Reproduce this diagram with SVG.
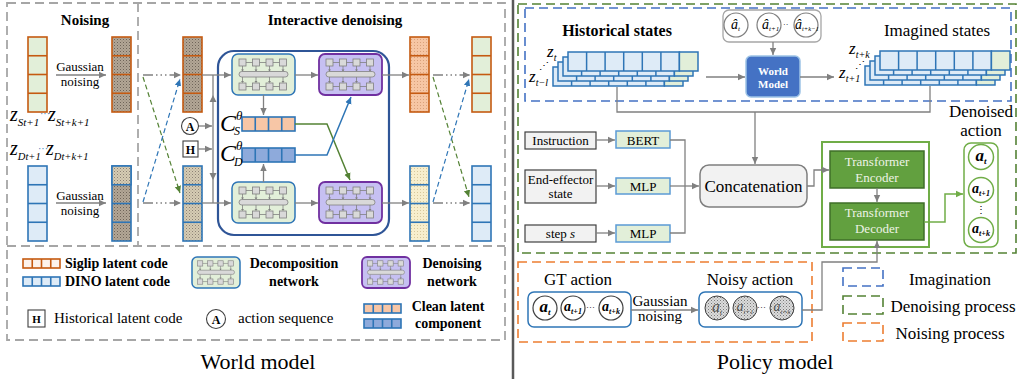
<svg xmlns="http://www.w3.org/2000/svg" width="1020" height="379" viewBox="0 0 1020 379">
<defs>
<style>
text{font-family:"Liberation Serif","Times New Roman",serif;fill:#000}
.b{font-weight:bold}
.i{font-style:italic}
.bi{font-weight:bold;font-style:italic}
.m{text-anchor:middle}
.gl{stroke:#808080;stroke-width:1.3;fill:none}
.or{stroke:#c55a11;stroke-width:1.6}
.bl{stroke:#2e75b6;stroke-width:1.6}
.sq{fill:#d9d9d9;stroke:#808080;stroke-width:0.8}
.dec{fill:#e2efd9;stroke:#2e75b6;stroke-width:1.5}
.den{fill:#c6c0f2;stroke:#7030a0;stroke-width:1.8}
.gbox{fill:#f2f2f2;stroke:#404040;stroke-width:1.2}
.mlp{fill:#e2efd9;stroke:#5b9bd5;stroke-width:1.5}
.tf{fill:#62a03f;stroke:#3f6f28;stroke-width:1.5}
.tft{fill:#eef3e6;font-size:13px}
.circ{fill:#fff;stroke:#404040;stroke-width:1.2}
</style>
<marker id="ag" markerWidth="8" markerHeight="8" refX="7" refY="4" orient="auto" markerUnits="userSpaceOnUse"><path d="M0,0.8 L7,4 L0,7.2 z" fill="#808080"/></marker>
<marker id="ab" markerWidth="8" markerHeight="8" refX="7" refY="4" orient="auto" markerUnits="userSpaceOnUse"><path d="M0,0.8 L7,4 L0,7.2 z" fill="#2e75b6"/></marker>
<marker id="agr" markerWidth="8" markerHeight="8" refX="7" refY="4" orient="auto" markerUnits="userSpaceOnUse"><path d="M0,0.8 L7,4 L0,7.2 z" fill="#548235"/></marker>
<marker id="agl" markerWidth="8" markerHeight="8" refX="7" refY="4" orient="auto" markerUnits="userSpaceOnUse"><path d="M0,0.8 L7,4 L0,7.2 z" fill="#70ad47"/></marker>
<pattern id="pn" width="3" height="3" patternUnits="userSpaceOnUse"><rect width="3" height="3" fill="#b3a696"/><rect width="1" height="1" fill="#6e6458"/><rect x="1.5" y="1.5" width="1" height="1" fill="#8c8174"/></pattern>
<pattern id="pnl" width="3" height="3" patternUnits="userSpaceOnUse"><rect width="3" height="3" fill="#d6ccb4"/><rect width="1" height="1" fill="#8c8174"/><rect x="1.5" y="1.5" width="1" height="1" fill="#a89c88"/></pattern>
<pattern id="ppe" width="3" height="3" patternUnits="userSpaceOnUse"><rect width="3" height="3" fill="#f6c6a4"/><rect width="1" height="1" fill="#d9a07a"/></pattern>
<pattern id="pcr" width="3" height="3" patternUnits="userSpaceOnUse"><rect width="3" height="3" fill="#f7eecd"/><rect width="1" height="1" fill="#d6c79a"/></pattern>
<pattern id="pgr" width="3" height="3" patternUnits="userSpaceOnUse"><rect width="3" height="3" fill="#dcdcdc"/><rect width="1" height="1" fill="#7a7a7a"/><rect x="1.5" y="1.5" width="1" height="1" fill="#9a9a9a"/></pattern>
<symbol id="net" viewBox="0 0 63 41">
<g stroke="#808080" stroke-width="0.8" fill="none">
<line x1="10" y1="8.5" x2="51" y2="8.5"/><line x1="10" y1="32.5" x2="51" y2="32.5"/>
<line x1="10.5" y1="12" x2="10.5" y2="17"/><line x1="24" y1="12" x2="24" y2="17"/><line x1="37.5" y1="12" x2="37.5" y2="17"/><line x1="51" y1="12" x2="51" y2="17"/>
<line x1="10.5" y1="23" x2="10.5" y2="28"/><line x1="24" y1="23" x2="24" y2="28"/><line x1="37.5" y1="23" x2="37.5" y2="28"/><line x1="51" y1="23" x2="51" y2="28"/>
</g>
<g fill="#808080">
<path d="M9,15.5 h3 l-1.5,2 z M22.5,15.5 h3 l-1.5,2 z M36,15.5 h3 l-1.5,2 z M49.5,15.5 h3 l-1.5,2 z"/>
<path d="M9,27 h3 l-1.5,2 z M22.5,27 h3 l-1.5,2 z M36,27 h3 l-1.5,2 z M49.5,27 h3 l-1.5,2 z"/>
</g>
<g class="sq">
<rect x="7" y="5" width="7" height="7"/><rect x="20.5" y="5" width="7" height="7"/><rect x="34" y="5" width="7" height="7"/><rect x="47.5" y="5" width="7" height="7"/>
<rect x="7" y="29" width="7" height="7"/><rect x="20.5" y="29" width="7" height="7"/><rect x="34" y="29" width="7" height="7"/><rect x="47.5" y="29" width="7" height="7"/>
<rect x="7" y="17.5" width="49" height="5.5" rx="2.75"/>
</g>
</symbol>
<symbol id="layer" viewBox="0 0 130 19" overflow="visible">
<g stroke="#2e75b6" stroke-width="1.5">
<rect x="0" y="0" width="111.4" height="19" fill="#deebf7"/>
<rect x="111.4" y="0" width="18.6" height="19" fill="#e2efd9"/>
<line x1="18.6" y1="0" x2="18.6" y2="19"/><line x1="37.1" y1="0" x2="37.1" y2="19"/><line x1="55.7" y1="0" x2="55.7" y2="19"/><line x1="74.3" y1="0" x2="74.3" y2="19"/><line x1="92.9" y1="0" x2="92.9" y2="19"/>
</g>
</symbol>
</defs>
<rect width="1020" height="379" fill="#fff"/>

<!-- ================= WORLD MODEL ================= -->
<g id="world-frame" fill="none" stroke="#a6a6a6" stroke-width="1.8" stroke-dasharray="9 5">
<rect x="7" y="3" width="498" height="337"/>
<line x1="138" y1="3" x2="138" y2="246"/>
<line x1="7" y1="246" x2="505" y2="246"/>
</g>
<text class="b m" x="85" y="25" font-size="15">Noising</text>
<text class="b m" x="335" y="25" font-size="15">Interactive denoising</text>

<g id="bar-siglip-clean">
<rect x="28" y="37" width="19" height="75" fill="#e2efd9" class="or"/>
<g class="or"><line x1="28" y1="55.75" x2="47" y2="55.75"/><line x1="28" y1="74.5" x2="47" y2="74.5"/><line x1="28" y1="93.25" x2="47" y2="93.25"/></g>
</g>
<g id="bar-siglip-noisy">
<rect x="112" y="37" width="19" height="75" fill="url(#pn)" class="or"/>
<g class="or"><line x1="112" y1="55.75" x2="131" y2="55.75"/><line x1="112" y1="74.5" x2="131" y2="74.5"/><line x1="112" y1="93.25" x2="131" y2="93.25"/></g>
</g>
<g id="bar-dino-clean">
<rect x="28" y="166" width="19" height="75" fill="#deebf7" class="bl"/>
<g class="bl"><line x1="28" y1="184.75" x2="47" y2="184.75"/><line x1="28" y1="203.5" x2="47" y2="203.5"/><line x1="28" y1="222.25" x2="47" y2="222.25"/></g>
</g>
<g id="bar-dino-noisy">
<rect x="112" y="166" width="19" height="75" fill="url(#pn)" class="bl"/>
<rect x="112" y="166" width="19" height="18.75" fill="url(#pnl)" class="bl"/>
<g class="bl"><line x1="112" y1="203.5" x2="131" y2="203.5"/><line x1="112" y1="222.25" x2="131" y2="222.25"/></g>
</g>
<g id="noising-labels">
<text class="m" x="80" y="71" font-size="13">Gaussian</text>
<text class="m" x="80" y="86" font-size="13">noising</text>
<text class="m" x="80" y="200" font-size="13">Gaussian</text>
<text class="m" x="80" y="215" font-size="13">noising</text>
<text class="i" x="10" y="121" font-size="20">z<tspan font-size="11" dy="5">St+1</tspan></text>
<text x="40" y="117" font-size="10" fill="#2e75b6" style="fill:#2e75b6">···</text>
<text class="i" x="48" y="121" font-size="20">z<tspan font-size="11" dy="5">St+k+1</tspan></text>
<text class="i" x="10" y="155" font-size="20">z<tspan font-size="10.5" dy="5">Dt+1</tspan></text>
<text x="38" y="152" font-size="10" style="fill:#2e75b6">···</text>
<text class="i" x="46" y="155" font-size="20">z<tspan font-size="10.5" dy="5">Dt+k+1</tspan></text>
</g>

<g id="bar-siglip-mid">
<rect x="183" y="37" width="19" height="75" fill="url(#pn)" class="or"/>
<g class="or"><line x1="183" y1="55.75" x2="202" y2="55.75"/><line x1="183" y1="74.5" x2="202" y2="74.5"/><line x1="183" y1="93.25" x2="202" y2="93.25"/></g>
</g>
<g id="bar-dino-mid">
<rect x="183" y="166" width="19" height="75" fill="url(#pnl)" class="bl"/>
<g class="bl"><line x1="183" y1="184.75" x2="202" y2="184.75"/><line x1="183" y1="203.5" x2="202" y2="203.5"/><line x1="183" y1="222.25" x2="202" y2="222.25"/></g>
</g>
<g id="node-A">
<circle cx="190" cy="126" r="8.5" fill="#fff" stroke="#404040" stroke-width="1.1"/>
<text class="b m" x="190" y="130.5" font-size="12">A</text>
</g>
<g id="node-H">
<rect x="183" y="141" width="15" height="16" fill="#fff" stroke="#404040" stroke-width="1.1"/>
<text class="b m" x="190.5" y="153.5" font-size="12">H</text>
</g>

<g id="interactive-box">
<rect x="218" y="51" width="171" height="184" rx="16" fill="none" stroke="#2f5597" stroke-width="2.2"/>
</g>
<g id="decomp-top"><rect x="232" y="54" width="63" height="41" rx="6" class="dec"/><use href="#net" x="232" y="54" width="63" height="41"/></g>
<g id="decomp-bottom"><rect x="232" y="182" width="63" height="41" rx="6" class="dec"/><use href="#net" x="232" y="182" width="63" height="41"/></g>
<g id="denoise-top"><rect x="319" y="54" width="63" height="41" rx="6" class="den"/><use href="#net" x="319" y="54" width="63" height="41"/></g>
<g id="denoise-bottom"><rect x="319" y="182" width="63" height="41" rx="6" class="den"/><use href="#net" x="319" y="182" width="63" height="41"/></g>

<g id="C-S">
<rect x="242" y="117" width="53" height="14" fill="#f7c6a6" class="bl"/>
<g class="bl"><line x1="255.25" y1="117" x2="255.25" y2="131"/><line x1="268.5" y1="117" x2="268.5" y2="131"/><line x1="281.75" y1="117" x2="281.75" y2="131"/></g>
<text class="i" x="220" y="131" font-size="24">C</text>
<text class="i" x="236" y="120" font-size="13">θ</text>
<text class="i" x="234" y="135" font-size="12">S</text>
</g>
<g id="C-D">
<rect x="242" y="148" width="53" height="14" fill="#8eaadb" class="bl"/>
<g class="bl"><line x1="255.25" y1="148" x2="255.25" y2="162"/><line x1="268.5" y1="148" x2="268.5" y2="162"/><line x1="281.75" y1="148" x2="281.75" y2="162"/></g>
<text class="i" x="220" y="161" font-size="24">C</text>
<text class="i" x="236" y="150" font-size="13">θ</text>
<text class="i" x="234" y="166" font-size="12">D</text>
</g>

<g id="bar-siglip-denoised">
<rect x="410" y="37" width="19" height="75" fill="url(#ppe)" class="or"/>
<g class="or"><line x1="410" y1="55.75" x2="429" y2="55.75"/><line x1="410" y1="74.5" x2="429" y2="74.5"/><line x1="410" y1="93.25" x2="429" y2="93.25"/></g>
</g>
<g id="bar-dino-denoised">
<rect x="410" y="166" width="19" height="75" fill="url(#pcr)" class="bl"/>
<g class="bl"><line x1="410" y1="184.75" x2="429" y2="184.75"/><line x1="410" y1="203.5" x2="429" y2="203.5"/><line x1="410" y1="222.25" x2="429" y2="222.25"/></g>
</g>
<g id="bar-siglip-out">
<rect x="472" y="37" width="19" height="75" fill="#e2efd9" class="or"/>
<g class="or"><line x1="472" y1="55.75" x2="491" y2="55.75"/><line x1="472" y1="74.5" x2="491" y2="74.5"/><line x1="472" y1="93.25" x2="491" y2="93.25"/></g>
</g>
<g id="bar-dino-out">
<rect x="472" y="166" width="19" height="75" fill="#deebf7" class="bl"/>
<g class="bl"><line x1="472" y1="184.75" x2="491" y2="184.75"/><line x1="472" y1="203.5" x2="491" y2="203.5"/><line x1="472" y1="222.25" x2="491" y2="222.25"/></g>
</g>

<g id="world-legend">
<rect x="23" y="259" width="37" height="9" fill="#fdf3ec" class="or"/>
<g class="or"><line x1="32.25" y1="259" x2="32.25" y2="268"/><line x1="41.5" y1="259" x2="41.5" y2="268"/><line x1="50.75" y1="259" x2="50.75" y2="268"/></g>
<text class="b" x="65" y="268" font-size="14">Siglip latent code</text>
<rect x="23" y="277" width="37" height="9" fill="#deebf7" class="bl"/>
<g class="bl"><line x1="32.25" y1="277" x2="32.25" y2="286"/><line x1="41.5" y1="277" x2="41.5" y2="286"/><line x1="50.75" y1="277" x2="50.75" y2="286"/></g>
<text class="b" x="65" y="286" font-size="14">DINO latent code</text>
<rect x="192" y="257" width="48" height="31" rx="5" class="dec"/><use href="#net" x="192" y="257" width="48" height="31"/>
<text class="b m" x="294" y="268" font-size="14">Decomposition</text>
<text class="b m" x="294" y="286" font-size="14">network</text>
<rect x="362" y="257" width="48" height="31" rx="5" class="den"/><use href="#net" x="362" y="257" width="48" height="31"/>
<text class="b m" x="452" y="268" font-size="14">Denoising</text>
<text class="b m" x="452" y="286" font-size="14">network</text>
<rect x="28" y="310" width="17" height="17" fill="#fff" stroke="#404040" stroke-width="1.1"/>
<text class="b m" x="36.5" y="323" font-size="11">H</text>
<text x="54" y="323" font-size="15">Historical latent code</text>
<circle cx="216" cy="319" r="9.5" fill="#fff" stroke="#404040" stroke-width="1.1"/>
<text class="b m" x="216" y="323.5" font-size="12">A</text>
<text x="238" y="323" font-size="15">action sequence</text>
<rect x="364" y="304" width="37" height="9" fill="#f7c6a6" class="bl"/>
<g class="bl"><line x1="373.25" y1="304" x2="373.25" y2="313"/><line x1="382.5" y1="304" x2="382.5" y2="313"/><line x1="391.75" y1="304" x2="391.75" y2="313"/></g>
<rect x="364" y="319" width="37" height="9" fill="#8eaadb" class="bl"/>
<g class="bl"><line x1="373.25" y1="319" x2="373.25" y2="328"/><line x1="382.5" y1="319" x2="382.5" y2="328"/><line x1="391.75" y1="319" x2="391.75" y2="328"/></g>
<text class="b m" x="448" y="311" font-size="14">Clean latent</text>
<text class="b m" x="448" y="328" font-size="14">component</text>
</g>
<text class="m" x="258" y="369" font-size="22">World model</text>

<!-- separator -->
<line x1="513" y1="0" x2="513" y2="379" stroke="#595959" stroke-width="2.5"/>

<!-- ================= POLICY MODEL ================= -->
<g id="frame-denoising"><rect x="518" y="4" width="498" height="249" fill="none" stroke="#548235" stroke-width="1.6" stroke-dasharray="9 5"/></g>
<g id="frame-imagination"><rect x="525" y="8" width="486" height="93" fill="none" stroke="#4472c4" stroke-width="1.6" stroke-dasharray="9 5"/></g>
<g id="frame-noising"><rect x="518" y="262" width="294" height="80" fill="none" stroke="#ed7d31" stroke-width="1.6" stroke-dasharray="9 5"/></g>

<g id="historical-states">
<text class="b m" x="617" y="36" font-size="16">Historical states</text>
<use href="#layer" x="553" y="67" width="130" height="19"/>
<use href="#layer" x="558" y="62" width="130" height="19"/>
<use href="#layer" x="563" y="57" width="130" height="19"/>
<use href="#layer" x="568" y="52" width="130" height="19"/>
<text class="i" x="547" y="57" font-size="17">z<tspan font-size="10" dy="4">t</tspan></text>
<text x="539" y="69" font-size="10">⋰</text>
<text class="i" x="529" y="82" font-size="17">z<tspan font-size="10" dy="4">t−l</tspan></text>
</g>
<g id="action-seq">
<rect x="723" y="10" width="98" height="32" rx="6" fill="#fff" stroke="#a6a6a6" stroke-width="1.3"/>
<circle cx="736" cy="25" r="12" class="circ" style="stroke:#7f7f7f"/>
<circle cx="769" cy="25" r="12" class="circ" style="stroke:#7f7f7f"/>
<circle cx="806" cy="25" r="12" class="circ" style="stroke:#7f7f7f"/>
<text class="i" x="731" y="29" font-size="14">â<tspan font-size="7" dy="2">t</tspan></text>
<text class="i" x="762" y="29" font-size="14">â<tspan font-size="7" dy="2">t+1</tspan></text>
<text x="783" y="27" font-size="8">··</text>
<text class="i" x="795" y="29" font-size="14">â<tspan font-size="6.5" dy="2">t+k−1</tspan></text>
</g>
<g id="world-model-box">
<rect x="746" y="56" width="54" height="41" rx="5" fill="#4472c4" stroke="#9dc3e6" stroke-width="1.5"/>
<text class="b m" x="773" y="75" font-size="11" style="fill:#fff">World</text>
<text class="b m" x="773" y="88" font-size="11" style="fill:#fff">Model</text>
</g>
<g id="imagined-states">
<text class="m" x="937" y="36" font-size="17">Imagined states</text>
<use href="#layer" x="865" y="66" width="130" height="19"/>
<use href="#layer" x="870" y="61" width="130" height="19"/>
<use href="#layer" x="875" y="56" width="130" height="19"/>
<use href="#layer" x="880" y="51" width="130" height="19"/>
<text class="i" x="849" y="54" font-size="17">z<tspan font-size="10" dy="4">t+k</tspan></text>
<text x="855" y="68" font-size="10">⋰</text>
<text class="i" x="839" y="78" font-size="17">z<tspan font-size="10" dy="4">t+1</tspan></text>
</g>

<g id="instruction"><rect x="525" y="132" width="71" height="17" class="gbox"/><text class="m" x="560.5" y="145" font-size="13">Instruction</text></g>
<g id="ee-state"><rect x="525" y="170" width="71" height="33" class="gbox"/><text class="m" x="560.5" y="184" font-size="13">End-effector</text><text class="m" x="560.5" y="198" font-size="13">state</text></g>
<g id="step"><rect x="525" y="225" width="71" height="17" class="gbox"/><text class="m" x="560.5" y="238" font-size="13">step  <tspan class="i">s</tspan></text></g>
<g id="bert"><rect x="616" y="131" width="54" height="17" class="mlp"/><text class="m" x="643" y="144.5" font-size="13">BERT</text></g>
<g id="mlp1"><rect x="616" y="178" width="54" height="16" class="mlp"/><text class="m" x="643" y="190.5" font-size="13">MLP</text></g>
<g id="mlp2"><rect x="616" y="225" width="54" height="17" class="mlp"/><text class="m" x="643" y="238" font-size="13">MLP</text></g>
<g id="concat"><rect x="700" y="165" width="107" height="42" rx="9" fill="#f2f2f2" stroke="#7f7f7f" stroke-width="1.5"/><text class="m" x="753.5" y="192" font-size="17">Concatenation</text></g>

<g id="transformer">
<rect x="822" y="142" width="107" height="105" fill="none" stroke="#70ad47" stroke-width="2"/>
<rect x="830" y="151" width="94" height="37" class="tf"/>
<text class="m tft" x="877" y="166" style="fill:#eef3e6">Transformer</text>
<text class="m tft" x="877" y="182" style="fill:#eef3e6">Encoder</text>
<rect x="830" y="203" width="94" height="37" class="tf"/>
<text class="m tft" x="877" y="217" style="fill:#eef3e6">Transformer</text>
<text class="m tft" x="877" y="233" style="fill:#eef3e6">Decoder</text>
</g>

<g id="denoised-action">
<text class="m" x="981" y="117" font-size="17">Denoised</text>
<text class="m" x="981" y="136" font-size="17">action</text>
<rect x="964" y="143" width="34" height="104" rx="7" fill="#fff" stroke="#70ad47" stroke-width="1.5"/>
<circle cx="981" cy="157" r="12.5" fill="#fff" stroke="#70ad47" stroke-width="1.5"/>
<circle cx="981" cy="190" r="12.5" fill="#fff" stroke="#70ad47" stroke-width="1.5"/>
<circle cx="981" cy="230" r="12.5" fill="#fff" stroke="#70ad47" stroke-width="1.5"/>
<text class="bi m" x="981" y="161" font-size="17">a<tspan font-size="9" dy="3">t</tspan></text>
<text class="bi m" x="981" y="193" font-size="14">a<tspan font-size="8" dy="3">t+1</tspan></text>
<text class="m" x="981" y="213" font-size="10">⋮</text>
<text class="bi m" x="981" y="233" font-size="14">a<tspan font-size="8" dy="3">t+k</tspan></text>
</g>

<g id="gt-action">
<text class="m" x="578" y="285" font-size="17">GT action</text>
<rect x="528" y="292" width="103" height="35" rx="6" fill="#fff" stroke="#2e75b6" stroke-width="1.5"/>
<circle cx="545" cy="308" r="12" class="circ"/>
<circle cx="573" cy="308" r="12" class="circ"/>
<circle cx="611" cy="308" r="12" class="circ"/>
<text class="bi m" x="545" y="312" font-size="17">a<tspan font-size="9" dy="3">t</tspan></text>
<text class="bi m" x="573" y="311" font-size="14">a<tspan font-size="8" dy="3">t+1</tspan></text>
<text x="586" y="310" font-size="9">···</text>
<text class="bi m" x="611" y="311" font-size="14">a<tspan font-size="8" dy="3">t+k</tspan></text>
</g>
<text class="m" x="660" y="306" font-size="15">Gaussian</text>
<text class="m" x="660" y="321" font-size="15">noising</text>
<g id="noisy-action">
<text class="m" x="750" y="285" font-size="17">Noisy action</text>
<rect x="699" y="292" width="103" height="35" rx="6" fill="#fff" stroke="#2e75b6" stroke-width="1.5"/>
<circle cx="717" cy="308" r="12" fill="url(#pgr)" stroke="#404040" stroke-width="1"/>
<circle cx="745" cy="308" r="12" fill="url(#pgr)" stroke="#404040" stroke-width="1"/>
<circle cx="782" cy="308" r="12" fill="url(#pgr)" stroke="#404040" stroke-width="1"/>
<text class="i m" x="717" y="312" font-size="16" style="fill:#555">a<tspan font-size="8" dy="3">t</tspan></text>
<text class="i m" x="745" y="311" font-size="14" style="fill:#555">a<tspan font-size="7" dy="3">t+1</tspan></text>
<text x="757" y="310" font-size="9">···</text>
<text class="i m" x="782" y="311" font-size="14" style="fill:#555">a<tspan font-size="7" dy="3">t+k</tspan></text>
</g>

<g id="policy-legend">
<rect x="843" y="268" width="40" height="18" fill="none" stroke="#4472c4" stroke-width="1.6" stroke-dasharray="9 5"/>
<text class="m" x="950" y="285" font-size="17">Imagination</text>
<rect x="843" y="296" width="40" height="18" fill="none" stroke="#548235" stroke-width="1.6" stroke-dasharray="9 5"/>
<text class="m" x="953" y="312" font-size="17">Denoising process</text>
<rect x="843" y="323" width="40" height="18" fill="none" stroke="#ed7d31" stroke-width="1.6" stroke-dasharray="9 5"/>
<text class="m" x="950" y="339" font-size="17">Noising process</text>
</g>
<text class="m" x="775" y="369" font-size="22">Policy model</text>

<!-- ================= CONNECTORS ================= -->
<g id="connectors">
<!-- world model -->
<line class="gl" x1="56" y1="75" x2="106" y2="75" marker-end="url(#ag)"/>
<line class="gl" x1="56" y1="203" x2="106" y2="203" marker-end="url(#ag)"/>
<line class="gl" x1="143" y1="75" x2="181" y2="75" stroke-dasharray="10 3 1.5 3 1.5 3 1.5 3" marker-end="url(#ag)"/>
<line class="gl" x1="143" y1="203" x2="181" y2="203" stroke-dasharray="10 3 1.5 3 1.5 3 1.5 3" marker-end="url(#ag)"/>
<line x1="143" y1="77" x2="180" y2="193" stroke="#548235" stroke-width="1.2" stroke-dasharray="5 3" marker-end="url(#agr)"/>
<line x1="143" y1="202" x2="180" y2="79" stroke="#2e75b6" stroke-width="1.2" stroke-dasharray="5 3" marker-end="url(#ab)"/>
<line class="gl" x1="202" y1="75" x2="231" y2="75" marker-end="url(#ag)"/>
<line class="gl" x1="202" y1="203" x2="231" y2="203" marker-end="url(#ag)"/>
<line class="gl" x1="213" y1="75" x2="213" y2="203"/>
<path d="M209.5,102 L216.5,102 L213,95 z M209.5,173 L216.5,173 L213,180 z" fill="#808080"/>
<line class="gl" x1="199" y1="126" x2="212" y2="126" marker-end="url(#ag)"/>
<line class="gl" x1="198" y1="149" x2="212" y2="149" marker-end="url(#ag)"/>
<line class="gl" x1="295" y1="75" x2="318" y2="75" marker-end="url(#ag)"/>
<line class="gl" x1="295" y1="203" x2="318" y2="203" marker-end="url(#ag)"/>
<line class="gl" x1="263.5" y1="95" x2="263.5" y2="115" marker-end="url(#ag)"/>
<line class="gl" x1="263.5" y1="182" x2="263.5" y2="164" marker-end="url(#ag)"/>
<polyline points="295,124 327,124 350,180" fill="none" stroke="#548235" stroke-width="1.5" marker-end="url(#agr)"/>
<polyline points="295,155 327,155 351,97" fill="none" stroke="#2e75b6" stroke-width="1.5" marker-end="url(#ab)"/>
<line class="gl" x1="382" y1="75" x2="409" y2="75" marker-end="url(#ag)"/>
<line class="gl" x1="382" y1="203" x2="409" y2="203" marker-end="url(#ag)"/>
<line class="gl" x1="433" y1="75" x2="470" y2="75" stroke-dasharray="10 3 1.5 3 1.5 3 1.5 3" marker-end="url(#ag)"/>
<line class="gl" x1="433" y1="203" x2="470" y2="203" stroke-dasharray="10 3 1.5 3 1.5 3 1.5 3" marker-end="url(#ag)"/>
<line x1="433" y1="77" x2="469" y2="197" stroke="#548235" stroke-width="1.2" stroke-dasharray="5 3" marker-end="url(#agr)"/>
<line x1="433" y1="202" x2="469" y2="79" stroke="#2e75b6" stroke-width="1.2" stroke-dasharray="5 3" marker-end="url(#ab)"/>
<!-- policy model -->
<line class="gl" x1="706" y1="77" x2="745" y2="77" marker-end="url(#ag)"/>
<line class="gl" x1="773" y1="42" x2="773" y2="55" marker-end="url(#ag)"/>
<line class="gl" x1="800" y1="77" x2="834" y2="77" marker-end="url(#ag)"/>
<polyline class="gl" points="617,87 617,112 930,112 930,86"/>
<line class="gl" x1="755" y1="112" x2="755" y2="164" marker-end="url(#ag)"/>
<line class="gl" x1="596" y1="140" x2="615" y2="140" marker-end="url(#ag)"/>
<line class="gl" x1="596" y1="186" x2="615" y2="186" marker-end="url(#ag)"/>
<line class="gl" x1="596" y1="233" x2="615" y2="233" marker-end="url(#ag)"/>
<polyline class="gl" points="670,140 685,140 685,233 670,233"/>
<line class="gl" x1="670" y1="186" x2="699" y2="186" marker-end="url(#ag)"/>
<polyline class="gl" points="807,186 814,186 814,170 829,170" marker-end="url(#ag)"/>
<line class="gl" x1="877" y1="188" x2="877" y2="202" marker-end="url(#ag)"/>
<polyline points="924,222 945,222 945,194 963,194" fill="none" stroke="#70ad47" stroke-width="1.5" marker-end="url(#agl)"/>
<line class="gl" x1="631" y1="310" x2="698" y2="310" marker-end="url(#ag)"/>
<polyline class="gl" points="802,310 822,310 822,262 877,262 877,241" marker-end="url(#ag)"/>
</g>
</svg>
